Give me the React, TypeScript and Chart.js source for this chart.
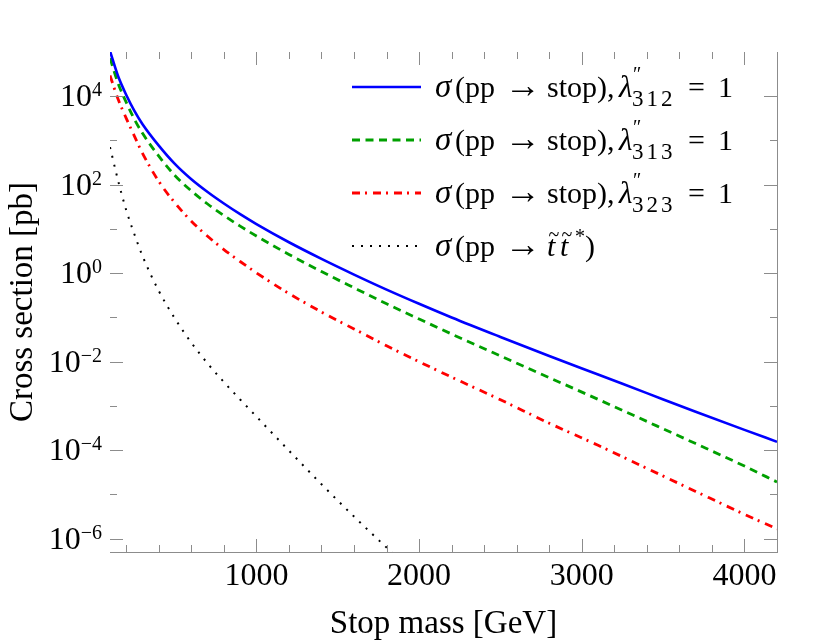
import { useEffect, useRef } from "react";
import { Chart, registerables } from "chart.js";

Chart.register(...registerables);

const SERIF = "'Liberation Serif', 'Times New Roman', serif";
const AXIS_GRAY = "#8c8c8c";

// stop mass [GeV]
const masses = [
  100, 150, 200, 250, 300, 400, 500, 600, 700, 800, 900, 1000, 1200, 1400, 1600, 1800, 2000, 2200, 2500,
  2800, 3100, 3400, 3700, 4000, 4200,
];

// cross sections [pb]
const sigma312 = [
  1.05e5, 2.82e4, 1.07e4, 4.68e3, 2.34e3, 767, 292, 133, 68.4, 37.6, 21.6, 12.9, 5.01, 2.11, 0.933, 0.427,
  0.204, 0.1, 0.0363, 0.0135, 5.13e-3, 1.95e-3, 7.41e-4, 2.88e-4, 1.55e-4,
];
const sigma313 = [
  7.24e4, 1.95e4, 7.24e3, 3.02e3, 1.45e3, 442, 160, 72.4, 36.7, 20.2, 11.6, 6.92, 2.66, 1.09, 0.468, 0.204,
  0.0923, 0.0422, 0.0135, 4.37e-3, 1.41e-3, 4.47e-4, 1.41e-4, 4.37e-5, 1.91e-5,
];
const sigma323 = [
  2.95e4, 8.51e3, 3.16e3, 1.26e3, 513, 119, 38.5, 15.0, 6.84, 3.43, 1.84, 1.02, 0.347, 0.133, 0.055, 0.0229,
  0.01, 4.47e-3, 1.38e-3, 4.07e-4, 1.29e-4, 3.89e-5, 1.17e-5, 3.55e-6, 1.66e-6,
];
// stop pair production, runs off the bottom near 1.8 TeV
const sigmaPair = [
  708, 123, 26.3, 7.59, 2.45, 0.398, 0.0933, 0.0269, 9.12e-3, 3.47e-3, 1.4e-3, 5.75e-4, 9.77e-5, 1.7e-5,
  3.16e-6, 6.31e-7, 1.32e-7,
];

const couplings = ["312", "313", "323"];

const xMin = 100;
const xMax = 4200;
const xMajorTicks = [1000, 2000, 3000, 4000];
const xMinorStep = 200;
const yMin = 5e-7;
const yMax = 1e5;
const yMajorExponents = [-6, -4, -2, 0, 2, 4];
const yMinorExponents = [-5, -3, -1, 1, 3];

const text = (ctx: CanvasRenderingContext2D, s: string, x: number, y: number, size: number, italic = false) => {
  ctx.font = `${italic ? "italic " : ""}${size}px ${SERIF}`;
  ctx.fillText(s, x, y);
  return x + ctx.measureText(s).width;
};

const framePlugin = {
  id: "frame",
  afterDraw(chart: any) {
    const { ctx, chartArea: a, scales } = chart;
    const xs = scales.x;
    const ys = scales.y;
    ctx.save();

    // bottom + right frame lines only
    ctx.strokeStyle = AXIS_GRAY;
    ctx.lineWidth = 1;
    ctx.setLineDash([]);
    ctx.beginPath();
    ctx.moveTo(a.left, a.bottom + 0.5);
    ctx.lineTo(a.right + 1, a.bottom + 0.5);
    ctx.moveTo(a.right + 0.5, a.top);
    ctx.lineTo(a.right + 0.5, a.bottom);
    ctx.stroke();

    // inward ticks on all four sides
    ctx.beginPath();
    for (let m = xMinorStep; m < xMax; m += xMinorStep) {
      const len = m % 1000 === 0 ? 13 : 7;
      const px = Math.round(xs.getPixelForValue(m)) + 0.5;
      ctx.moveTo(px, a.bottom);
      ctx.lineTo(px, a.bottom - len);
      ctx.moveTo(px, a.top);
      ctx.lineTo(px, a.top + len);
    }
    const yTick = (e: number, len: number) => {
      const py = Math.round(ys.getPixelForValue(Math.pow(10, e))) + 0.5;
      ctx.moveTo(a.left, py);
      ctx.lineTo(a.left + len, py);
      ctx.moveTo(a.right, py);
      ctx.lineTo(a.right - len, py);
    };
    yMajorExponents.forEach((e) => yTick(e, 13));
    yMinorExponents.forEach((e) => yTick(e, 7));
    ctx.stroke();

    // tick labels
    ctx.fillStyle = "#000";
    ctx.textBaseline = "alphabetic";
    ctx.textAlign = "center";
    ctx.font = `32px ${SERIF}`;
    xMajorTicks.forEach((v) => {
      ctx.fillText(String(v), xs.getPixelForValue(v), a.bottom + 33);
    });
    ctx.textAlign = "left";
    yMajorExponents.forEach((e) => {
      const py = ys.getPixelForValue(Math.pow(10, e));
      const exp = e < 0 ? "\u2212" + Math.abs(e) : String(e);
      ctx.font = `20px ${SERIF}`;
      const ew = ctx.measureText(exp).width;
      ctx.font = `32px ${SERIF}`;
      const bw = ctx.measureText("10").width;
      const right = a.left - 8;
      text(ctx, "10", right - ew - bw, py + 10, 32);
      text(ctx, exp, right - ew, py, 20);
    });

    // axis titles
    ctx.textAlign = "center";
    ctx.font = `33px ${SERIF}`;
    ctx.fillText("Stop mass [GeV]", (a.left + a.right) / 2, 633);
    ctx.save();
    ctx.translate(32, (a.top + a.bottom) / 2);
    ctx.rotate(-Math.PI / 2);
    ctx.fillText("Cross section [pb]", 0, 0);
    ctx.restore();

    // legend
    chart.data.datasets.forEach((ds: any, i: number) => {
      const cy = 87 + i * 53;
      const b = cy + 10;
      ctx.strokeStyle = ds.borderColor;
      ctx.lineWidth = ds.borderWidth;
      ctx.setLineDash(ds.borderDash || []);
      ctx.beginPath();
      ctx.moveTo(352, cy);
      ctx.lineTo(421, cy);
      ctx.stroke();
      ctx.setLineDash([]);

      const x0 = 435;
      ctx.textAlign = "left";
      text(ctx, "\u03c3", x0, b, 33, true);
      text(ctx, "(pp", x0 + 20, b, 30);
      ctx.textAlign = "center";
      text(ctx, "\u2192", x0 + 88, b, 36);
      ctx.textAlign = "left";
      if (i < couplings.length) {
        text(ctx, "stop", x0 + 112, b, 30);
        text(ctx, "),", x0 + 162, b, 30);
        text(ctx, "\u03bb", x0 + 184, b, 31, true);
        text(ctx, "\u2033", x0 + 198, b - 16, 20);
        couplings[i].split("").forEach((d, k) => text(ctx, d, x0 + 197 + k * 14.5, b + 9, 23));
        text(ctx, "=", x0 + 253, b, 30);
        text(ctx, "1", x0 + 283, b, 30);
      } else {
        [112, 125].forEach((dx) => {
          text(ctx, "t", x0 + dx, b, 30, true);
          ctx.textAlign = "center";
          text(ctx, "~", x0 + dx + 7, b - 15, 20);
          ctx.textAlign = "left";
        });
        text(ctx, "*", x0 + 140, b - 13, 20);
        text(ctx, ")", x0 + 150, b, 30);
      }
    });

    ctx.restore();
  },
};

const App = () => {
  const chartRef = useRef<HTMLCanvasElement>(null);
  const chartInstance = useRef<Chart | null>(null);

  useEffect(() => {
    if (!chartRef.current) return;
    if (chartInstance.current) chartInstance.current.destroy();
    const ctx = chartRef.current.getContext("2d");
    if (!ctx) return;

    const line = (values: number[], color: string, width: number, dash: number[]) => ({
      data: values.map((v, i) => ({ x: masses[i], y: v })),
      borderColor: color,
      borderWidth: width,
      borderDash: dash,
      pointRadius: 0,
      fill: false,
      cubicInterpolationMode: "monotone" as const,
    });

    chartInstance.current = new Chart(ctx, {
      type: "line",
      data: {
        datasets: [
          line(sigma312, "#0000ff", 2.6, []),
          line(sigma313, "#00a000", 2.8, [8, 5.5]),
          line(sigma323, "#ff0000", 2.8, [8, 5, 2, 6]),
          line(sigmaPair, "#000000", 2, [2, 7]),
        ],
      },
      options: {
        responsive: false,
        animation: false,
        layout: { padding: { left: 110, right: 53, top: 52, bottom: 92 } },
        scales: {
          x: { type: "linear", min: xMin, max: xMax, display: false },
          y: { type: "logarithmic", min: yMin, max: yMax, display: false },
        },
        plugins: {
          legend: { display: false },
          tooltip: { enabled: false },
        },
      },
      plugins: [framePlugin],
    });

    return () => {
      if (chartInstance.current) {
        chartInstance.current.destroy();
        chartInstance.current = null;
      }
    };
  }, []);

  return (
    <div style={{ position: "absolute", left: 0, top: 0, width: 830, height: 644, background: "#fff" }}>
      <canvas ref={chartRef} width={830} height={644} />
    </div>
  );
};

export default App;
